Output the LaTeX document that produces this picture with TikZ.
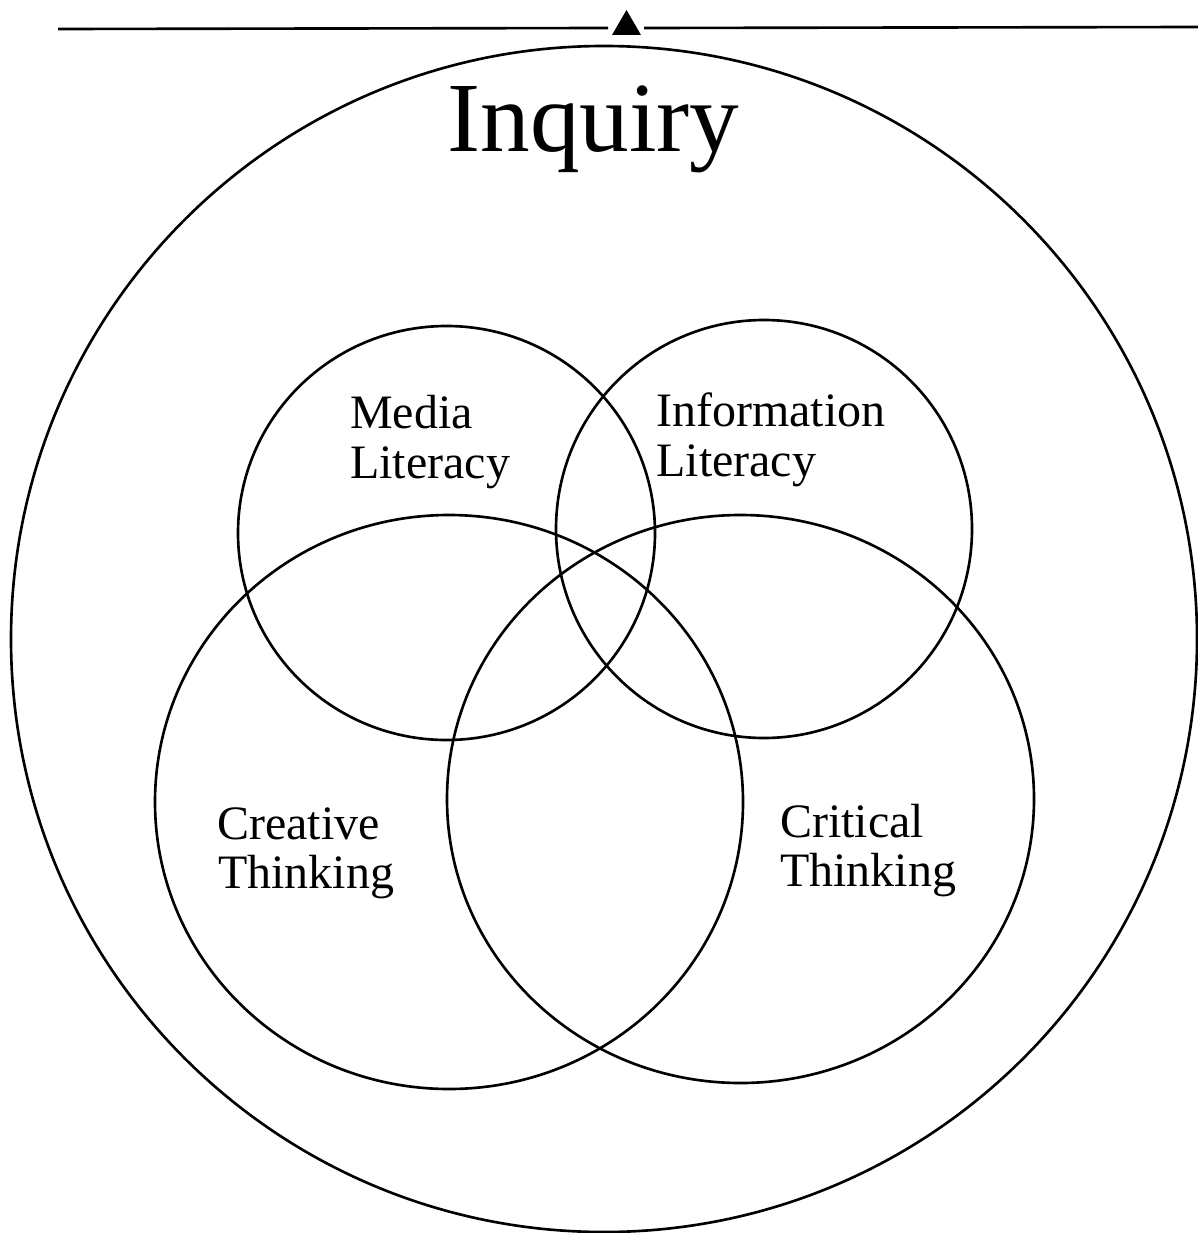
\documentclass[tikz,border=0pt]{standalone}
\usepackage{fontspec}
\setmainfont{Liberation Serif}
\begin{document}
\begin{tikzpicture}[x=0.02cm,y=-0.02cm,
  ring/.style={draw=black,line width=1.5pt},
  lbl/.style={anchor=base west,inner sep=0pt,font=\fontsize{27.3}{28.5}\selectfont},
  title/.style={anchor=base west,inner sep=0pt,font=\fontsize{56.5}{60}\selectfont}]
\useasboundingbox (0,0) rectangle (1197,1233);
% top rule with triangle
\coordinate (l0) at (58,29);
\coordinate (l1) at (608,28);
\coordinate (r0) at (644,28);
\coordinate (r1) at (1200,27);
\draw[line width=1.5pt] (l0) -- (l1);
\draw[line width=1.5pt] (r0) -- (r1);
\coordinate (ta) at (612,35);
\coordinate (tb) at (641,35);
\coordinate (tc) at (626.5,10);
\fill (ta) -- (tb) -- (tc) -- cycle;
% circles
\draw[ring] (604,639) circle[radius=593];
\draw[ring] (446.5,533) ellipse[x radius=208.5,y radius=207];
\draw[ring] (764,529) ellipse[x radius=208,y radius=209];
\draw[ring] (449,802) ellipse[x radius=294,y radius=287];
\draw[ring] (740.5,799) ellipse[x radius=293.5,y radius=284];
% labels
\node[title] (inq) at (447,152) {Inquiry};
\node[lbl] (m1) at (350,428) {Media};
\node[lbl] (m2) at (350,478) {Literacy};
\node[lbl] (i1) at (656,426) {Information};
\node[lbl] (i2) at (656,476) {Literacy};
\node[lbl] (c1) at (217,839) {Creative};
\node[lbl] (c2) at (218,888) {Thinking};
\node[lbl] (k1) at (780,837) {Critical};
\node[lbl] (k2) at (780,886) {Thinking};
\end{tikzpicture}
\end{document}
